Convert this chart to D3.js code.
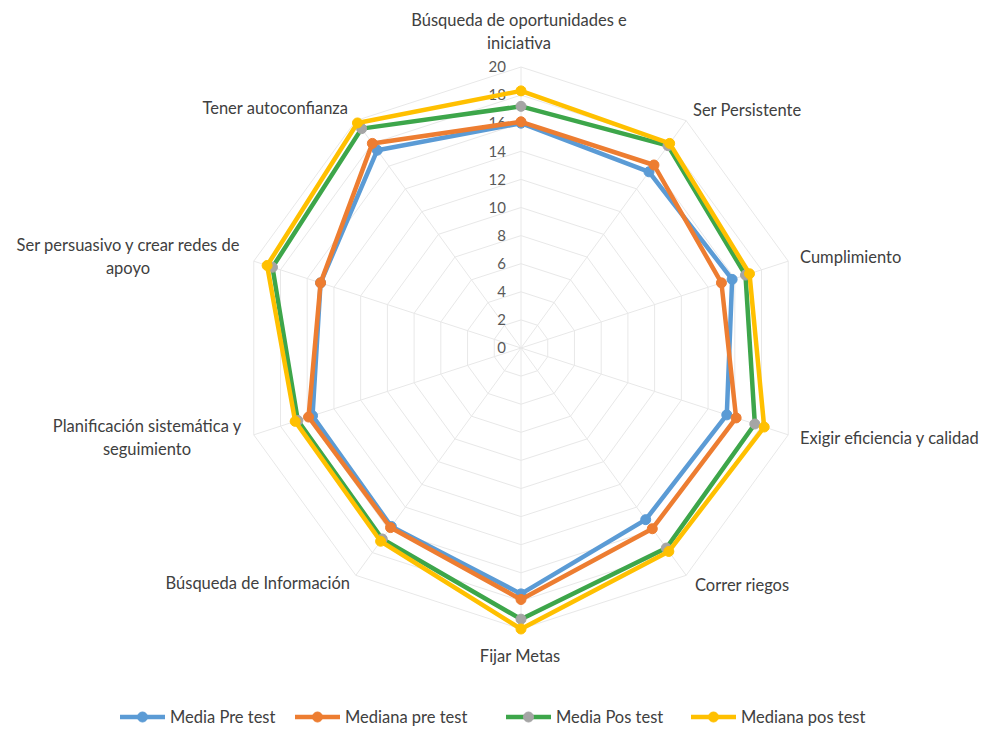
<!DOCTYPE html>
<html><head><meta charset="utf-8">
<script src="https://cdn.jsdelivr.net/npm/d3@7"></script>
<style>
html,body{margin:0;padding:0;background:#fff;}
svg{display:block;font-family:Lato,"Noto Sans",sans-serif;}
</style></head>
<body><svg id="c" width="987" height="736"></svg>
<script>
const categories = [
  ["Búsqueda de oportunidades e","iniciativa"],
  ["Ser Persistente"],
  ["Cumplimiento"],
  ["Exigir eficiencia y calidad"],
  ["Correr riegos"],
  ["Fijar Metas"],
  ["Búsqueda de Información"],
  ["Planificación sistemática y","seguimiento"],
  ["Ser persuasivo y crear redes de","apoyo"],
  ["Tener autoconfianza"]
];
const seriesNames = ["Media Pre test","Mediana pre test","Media Pos test","Mediana pos test"];
const mediaPre    = [16.0, 15.5, 15.8, 15.4, 15.1, 17.5, 15.7, 15.6, 15.0, 17.4];
const medianaPre  = [16.1, 16.1, 15.0, 16.1, 15.9, 17.9, 15.8, 15.9, 15.0, 18.0];
const mediaPos    = [17.2, 17.8, 16.8, 17.5, 17.6, 19.3, 16.8, 16.7, 18.6, 19.3];
const medianaPos  = [18.3, 18.0, 17.1, 18.2, 17.9, 20.0, 17.0, 16.9, 19.0, 19.8];
const tickValues  = [0,2,4,6,8,10,12,14,16,18,20];

const lineColors   = ["#5B9BD5","#ED7D31","#3DA64A","#FFC000"];
const markerColors = ["#5B9BD5","#ED7D31","#A5A5A5","#FFC000"];
const allSeries = [mediaPre, medianaPre, mediaPos, medianaPos];

const svg = d3.select("#c");
const cx = 521, cy = 348;
const r = d3.scaleLinear().domain([0,20]).range([0,281]);
const ang = d3.scaleLinear().domain([0, categories.length]).range([0, 2*Math.PI]);
const pt = (i, v) => [cx + r(v)*Math.sin(ang(i)), cy - r(v)*Math.cos(ang(i))];

const g = svg.append("g");
// grid rings
tickValues.filter(t=>t>0).forEach(t=>{
  const pts = categories.map((c,i)=>pt(i,t));
  g.append("path").attr("d", d3.line()(pts)+"Z")
    .attr("fill","none").attr("stroke","#e8e8e8").attr("stroke-width",1);
});
// spokes
categories.forEach((c,i)=>{
  const [x,y] = pt(i,20);
  g.append("line").attr("x1",cx).attr("y1",cy).attr("x2",x).attr("y2",y)
    .attr("stroke","#e8e8e8").attr("stroke-width",1);
});
// tick labels
tickValues.forEach(t=>{
  g.append("text").attr("x", cx-15).attr("y", cy - r(t)).attr("dy","0.35em")
    .attr("text-anchor","end").attr("font-size",15).attr("fill","#595959").text(t);
});

// series
const lineGen = d3.line().x(d=>d[0]).y(d=>d[1]).curve(d3.curveLinearClosed);
allSeries.forEach((vals,s)=>{
  const pts = vals.map((v,i)=>pt(i,v));
  g.append("path").attr("d", lineGen(pts)).attr("fill","none")
    .attr("stroke", lineColors[s]).attr("stroke-width",4.5).attr("stroke-linejoin","round");
  g.selectAll(null).data(pts).enter().append("circle")
    .attr("cx",d=>d[0]).attr("cy",d=>d[1]).attr("r",5)
    .attr("fill",markerColors[s]).attr("stroke",markerColors[s]).attr("stroke-width",1);
});

// category labels
const labelPos = [
  {x:519, y:20, a:"middle"},
  {x:693, y:110, a:"start"},
  {x:800, y:257, a:"start"},
  {x:800, y:438, a:"start"},
  {x:695, y:585, a:"start"},
  {x:520, y:656, a:"middle"},
  {x:350, y:583, a:"end"},
  {x:147, y:426, a:"middle"},
  {x:128, y:245, a:"middle"},
  {x:348, y:108, a:"end"}
];
categories.forEach((lines,i)=>{
  const p = labelPos[i];
  const t = g.append("text").attr("x",p.x).attr("y",p.y)
    .attr("text-anchor",p.a).attr("font-size",16.5).attr("fill","#404040");
  lines.forEach((ln,k)=>{
    t.append("tspan").attr("x",p.x).attr("dy", k===0 ? "0.35em" : "23px").text(ln);
  });
});

// legend
const legX = [120, 295, 506, 691];
const legY = 717;
seriesNames.forEach((n,s)=>{
  const x0 = legX[s];
  g.append("line").attr("x1",x0).attr("x2",x0+45).attr("y1",legY).attr("y2",legY)
    .attr("stroke",lineColors[s]).attr("stroke-width",4.5);
  g.append("circle").attr("cx",x0+22.5).attr("cy",legY).attr("r",5)
    .attr("fill",markerColors[s]).attr("stroke",markerColors[s]);
  g.append("text").attr("x",x0+50).attr("y",legY).attr("dy","0.35em")
    .attr("font-size",16.5).attr("fill","#404040").text(n);
});
</script></body></html>
